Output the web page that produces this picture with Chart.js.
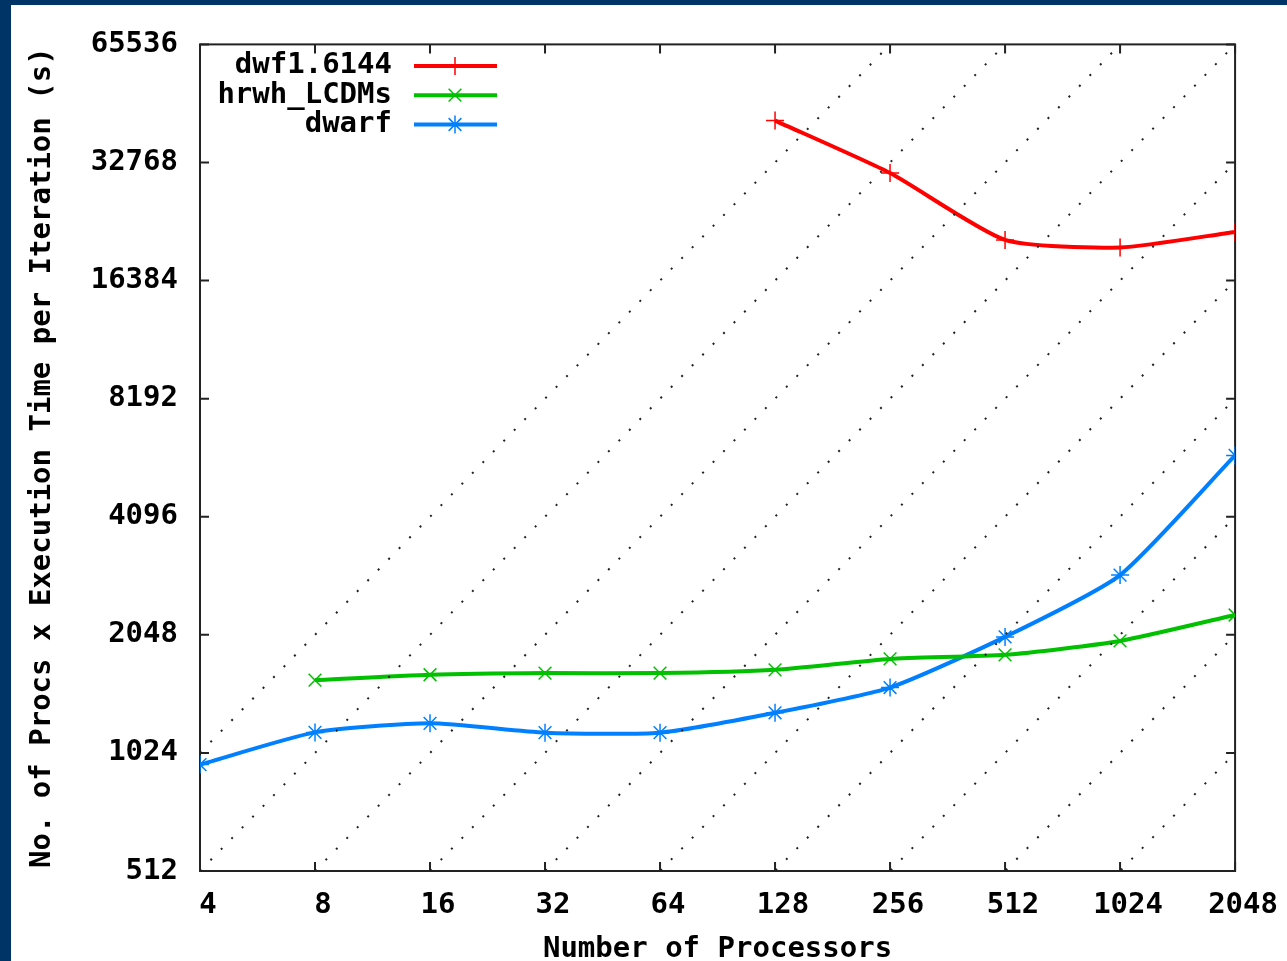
<!DOCTYPE html>
<html>
<head>
<meta charset="utf-8">
<script src="https://cdn.jsdelivr.net/npm/chart.js@4.4.0/dist/chart.umd.min.js"></script>
<style>
html, body { margin: 0; padding: 0; background: #003366; width: 1287px; height: 961px; overflow: hidden; }
#wrap { position: absolute; left: 11px; top: 5px; width: 1276px; height: 956px; background: #fff; }
</style>
</head>
<body>
<div id="wrap"><canvas id="chart"></canvas></div>
<script>
// number of processors (x axis)
const procs = [4, 8, 16, 32, 64, 128, 256, 512, 1024, 2048];
// procs x execution time per iteration (s), null where the run was not done
const dwf16144 = [null, null, null, null, null, 41900, 30800, 20800, 19900, 21800];
const hrwhLCDMs = [null, 1570, 1620, 1636, 1636, 1668, 1778, 1821, 1976, 2301];
const dwarf = [956, 1155, 1218, 1153, 1153, 1296, 1503, 2023, 2908, 5871];

const xTicks = [4, 8, 16, 32, 64, 128, 256, 512, 1024, 2048];
const yTicks = [512, 1024, 2048, 4096, 8192, 16384, 32768, 65536];

// dotted guide lines: y = k * x
const guideK = [0.5, 1, 2, 4, 8, 16, 32, 64, 128, 256];

const FONT = '"DejaVu Sans Mono", monospace';

let pts = function(vals) {
  return procs.map((p, i) => ({x: p, y: vals[i]})).filter(d => d.y !== null);
};

let guides = guideK.map(k => ({
  data: [{x: 4, y: 4 * k}, {x: 2048, y: 2048 * k}],
  borderColor: '#222',
  borderWidth: 2,
  borderDash: [2, 13],
  pointRadius: 0,
  tension: 0
}));

let series = [
  {label: 'dwf1.6144', data: pts(dwf16144), borderColor: '#ff0000', pointStyle: 'cross', pointRadius: 9},
  {label: 'hrwh_LCDMs', data: pts(hrwhLCDMs), borderColor: '#00c000', pointStyle: 'crossRot', pointRadius: 9},
  {label: 'dwarf', data: pts(dwarf), borderColor: '#0080ff', pointStyle: 'star', pointRadius: 9}
].map(s => Object.assign(s, {
  borderWidth: 4,
  pointBorderColor: s.borderColor,
  pointBorderWidth: 1.5,
  tension: 0.2
}));

// box round the plot with inward ticks on all four sides
let frame = {
  id: 'frame',
  beforeDatasetsDraw(chart) {
    let ctx = chart.ctx, a = chart.chartArea;
    let sx = chart.scales.x, sy = chart.scales.y;
    ctx.save();
    ctx.strokeStyle = '#222';
    ctx.lineWidth = 2;
    ctx.strokeRect(a.left, a.top, a.right - a.left, a.bottom - a.top);
    ctx.beginPath();
    xTicks.forEach(v => {
      let x = sx.getPixelForValue(v);
      ctx.moveTo(x, a.bottom); ctx.lineTo(x, a.bottom - 9);
      ctx.moveTo(x, a.top); ctx.lineTo(x, a.top + 9);
    });
    yTicks.forEach(v => {
      let y = sy.getPixelForValue(v);
      ctx.moveTo(a.left, y); ctx.lineTo(a.left + 9, y);
      ctx.moveTo(a.right, y); ctx.lineTo(a.right - 9, y);
    });
    ctx.stroke();
    ctx.restore();
  }
};

// key in the top left corner of the plot
let key = {
  id: 'key',
  afterDatasetsDraw(chart) {
    let ctx = chart.ctx, a = chart.chartArea;
    ctx.save();
    ctx.font = 'bold 29px ' + FONT;
    ctx.textAlign = 'right';
    ctx.textBaseline = 'middle';
    series.forEach((s, i) => {
      let y = a.top + 21.5 + i * 29.3;
      ctx.fillStyle = '#000';
      ctx.fillText(s.label, a.left + 192, y);
      ctx.strokeStyle = s.borderColor;
      ctx.lineWidth = 4;
      ctx.beginPath();
      ctx.moveTo(a.left + 214, y);
      ctx.lineTo(a.left + 297, y);
      ctx.stroke();
      ctx.lineWidth = s.pointBorderWidth;
      Chart.helpers.drawPoint(ctx, {pointStyle: s.pointStyle, radius: s.pointRadius, borderWidth: s.pointBorderWidth, rotation: 0}, a.left + 255, y);
    });
    ctx.restore();
  }
};

let chart = new Chart(document.getElementById('chart'), {
  type: 'line',
  data: {datasets: guides.concat(series)},
  options: {
    responsive: true,
    maintainAspectRatio: false,
    animation: false,
    events: [],
    layout: {padding: {top: 36, right: 50, left: 0, bottom: 0}},
    plugins: {legend: {display: false}, tooltip: {enabled: false}},
    scales: {
      x: {
        type: 'logarithmic',
        min: 4,
        max: 2048,
        grid: {display: false, drawTicks: false},
        border: {display: false},
        afterBuildTicks: scale => { scale.ticks = xTicks.map(v => ({value: v})); },
        afterFit: scale => { scale.height = 90; },
        ticks: {
          autoSkip: false,
          maxRotation: 0,
          padding: 17,
          labelOffset: 8,
          color: '#000',
          font: {family: FONT, size: 29, weight: 'bold'},
          callback: v => String(v)
        },
        title: {
          display: true,
          text: 'Number of Processors',
          color: '#000',
          font: {family: FONT, size: 29, weight: 'bold', lineHeight: 1},
          padding: {top: 0, bottom: -3}
        }
      },
      y: {
        type: 'logarithmic',
        min: 512,
        max: 65536,
        grid: {display: false, drawTicks: false},
        border: {display: false},
        afterBuildTicks: scale => { scale.ticks = yTicks.map(v => ({value: v})); },
        afterFit: scale => { scale.width = 189; },
        ticks: {
          padding: 22,
          color: '#000',
          font: {family: FONT, size: 29, weight: 'bold'},
          callback: v => String(v)
        },
        title: {
          display: true,
          text: 'No. of Procs x Execution Time per Iteration (s)',
          color: '#000',
          font: {family: FONT, size: 29, weight: 'bold', lineHeight: 1},
          padding: {top: 17, bottom: 0}
        }
      }
    }
  },
  plugins: [frame, key]
});
</script>
</body>
</html>
